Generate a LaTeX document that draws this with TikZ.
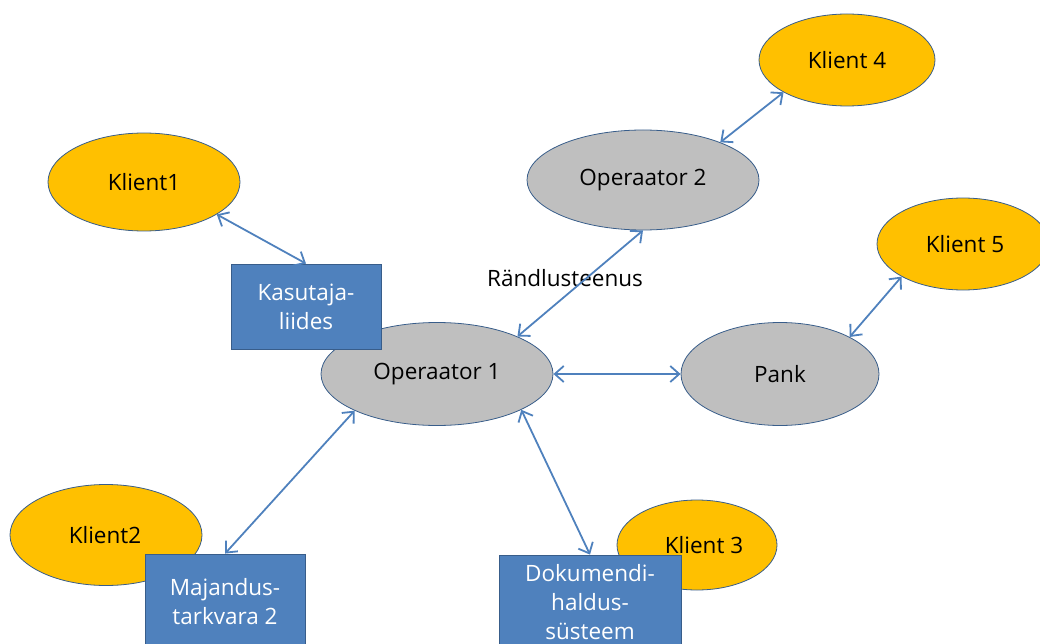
\documentclass[tikz,border=0pt]{standalone}
\usepackage{fontspec}
\setmainfont{Open Sans}
\usetikzlibrary{shapes.geometric,arrows.meta}
\definecolor{gold}{HTML}{FFC000}
\definecolor{greyfill}{HTML}{BFBFBF}
\definecolor{boxblue}{HTML}{4F81BD}
\definecolor{edgeblue}{HTML}{385D8A}
\tikzset{
  lbl/.style={font=\fontsize{22.5}{29}\selectfont},
  client/.style={ellipse, draw=edgeblue, line width=0.8pt, fill=gold, inner sep=0pt, lbl},
  oper/.style={ellipse, draw=edgeblue, line width=0.8pt, fill=greyfill, inner sep=0pt, lbl},
  sysbox/.style={rectangle, draw=edgeblue, line width=0.8pt, fill=boxblue, text=white, inner sep=0pt, align=center, lbl},
  link/.style={draw=boxblue, line width=1.8pt, {Straight Barb[length=9pt,width=16pt,line width=1.8pt]}-{Straight Barb[length=9pt,width=16pt,line width=1.8pt]}}
}
\begin{document}
\begin{tikzpicture}[x=1pt,y=-1pt]
\useasboundingbox (0,0) rectangle (1040,644);
\clip (0,0) rectangle (1040,644);
% clients and operators
\node[client, minimum width=192pt, minimum height=98pt] (k1) at (144,182) {\raisebox{-3pt}{Klient1}};
\node[client, minimum width=176pt, minimum height=92pt] (k4) at (847,60) {\raisebox{-1pt}{Klient 4}};
\node[oper, minimum width=232pt, minimum height=100pt] (op2) at (643,180) {\raisebox{-2pt}{Operaator 2}};
\node[client, minimum width=172pt, minimum height=92pt] (k5) at (963,244) {\hspace*{4pt}\raisebox{-1pt}{Klient 5}};
\node[oper, minimum width=232pt, minimum height=103pt] (op1) at (437,374) {\raisebox{-3pt}{Operaator 1}};
\node[oper, minimum width=198pt, minimum height=103pt] (pank) at (780,374) {\raisebox{-2pt}{Pank}};
\node[client, minimum width=192pt, minimum height=101pt] (k2) at (106,535) {\hspace*{-2pt}\raisebox{-2pt}{Klient2}};
\node[client, minimum width=160pt, minimum height=90pt] (k3) at (697,545) {\hspace*{14pt}Klient 3};
% boxes
\node[sysbox, minimum width=150pt, minimum height=85pt] (kas) at (306,306.5) {Kasutaja-\\liides};
\node[sysbox, minimum width=160pt, minimum height=96pt] (maj) at (225,602) {Majandus-\\tarkvara 2};
\node[sysbox, minimum width=182pt, minimum height=94pt] (dok) at (590,602) {Dokumendi-\\haldus-\\süsteem};
% label
\node[lbl, anchor=center] (rand) at (565,278) {Rändlusteenus};
% connectors
\draw[link] (k1.-24.5) -- (kas.north);
\draw[link] (op2.south) -- (op1.25);
\draw[link] (k4.207) -- (op2.26);
\draw[link] (k5.208) -- (pank.28.5);
\draw[link] (op1.east) -- (pank.west);
\draw[link] (op1.204) -- (maj.north);
\draw[link] (op1.-23) -- (dok.north);
\end{tikzpicture}
\end{document}
